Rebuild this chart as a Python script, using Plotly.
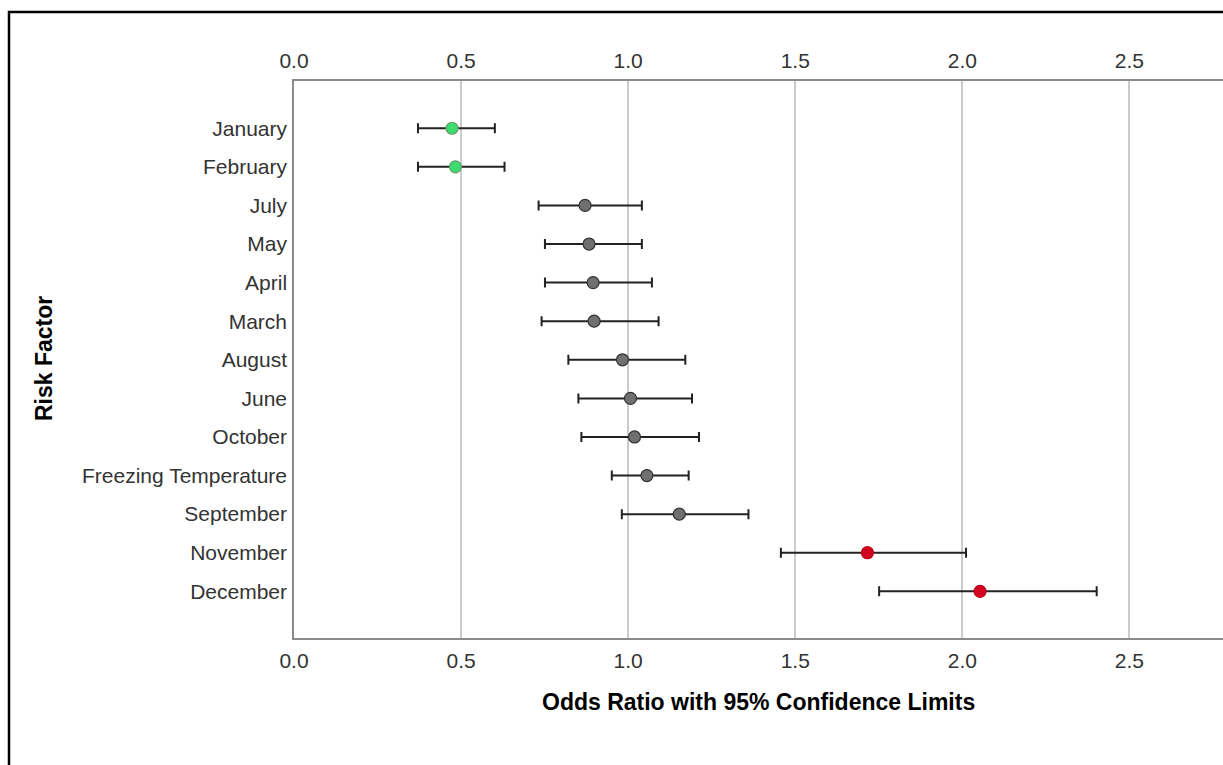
import plotly.graph_objects as go

# ---- data ----
categories = ["January", "February", "July", "May", "April", "March", "August",
              "June", "October", "Freezing Temperature", "September", "November", "December"]
odds_ratio = [0.473, 0.483, 0.871, 0.883, 0.895, 0.898, 0.983, 1.007, 1.019, 1.056, 1.153, 1.716, 2.053]
lower_ci = [0.371, 0.371, 0.732, 0.751, 0.751, 0.741, 0.821, 0.851, 0.860, 0.951, 0.981, 1.457, 1.751]
upper_ci = [0.601, 0.630, 1.041, 1.041, 1.071, 1.091, 1.171, 1.191, 1.212, 1.181, 1.360, 2.011, 2.402]
x_ticks = [0.0, 0.5, 1.0, 1.5, 2.0, 2.5]
x_tick_labels = ["0.0", "0.5", "1.0", "1.5", "2.0", "2.5"]

# ---- styling ----
W, H = 1223, 765
ML, MR, MT, MB = 294, 0, 81, 127
plot_w = W - ML - MR
plot_h = H - MT - MB
FONT = "Liberation Sans, Arial, sans-serif"

def px_to_paper_x(px):
    return (px - ML) / plot_w

def px_to_paper_y(py):
    return (H - MB - py) / plot_h

fill_colors, line_colors = [], []
for lo, hi in zip(lower_ci, upper_ci):
    if hi < 1:
        fill_colors.append("#3ddc6e"); line_colors.append("#6c9c6c")
    elif lo > 1:
        fill_colors.append("#d4001f"); line_colors.append("#c0001c")
    else:
        fill_colors.append("#707070"); line_colors.append("#333333")

err_plus = [u - o for u, o in zip(upper_ci, odds_ratio)]
err_minus = [o - l for o, l in zip(odds_ratio, lower_ci)]

fig = go.Figure()
fig.add_trace(go.Scatter(
    x=odds_ratio, y=categories, mode="markers",
    marker=dict(size=12, color=fill_colors, line=dict(color=line_colors, width=1.2)),
    error_x=dict(type="data", symmetric=False, array=err_plus, arrayminus=err_minus,
                 color="#222222", thickness=2, width=5),
    showlegend=False, hoverinfo="x+y",
))
# invisible trace to carry the top axis
fig.add_trace(go.Scatter(x=[x_ticks[0], x_ticks[-1]], y=[categories[0], categories[0]],
                         xaxis="x2", mode="markers", marker=dict(opacity=0),
                         showlegend=False, hoverinfo="skip"))

x_range = [0, 2.78]
axis_common = dict(
    range=x_range, tickvals=x_ticks, ticktext=x_tick_labels,
    showgrid=True, gridcolor="#cbcbcb", gridwidth=1.5,
    zeroline=False, ticks="", ticklabelstandoff=3,
    tickfont=dict(family=FONT, size=21, color="#333333"),
    showline=True, linecolor="#8a8a8a", linewidth=1.5,
)

fig.update_layout(
    width=W, height=H,
    margin=dict(l=ML, r=MR, t=MT, b=MB, pad=0),
    paper_bgcolor="white", plot_bgcolor="white",
    xaxis=dict(**axis_common, side="bottom"),
    xaxis2=dict(**axis_common, side="top", overlaying="x", matches="x"),
    yaxis=dict(
        type="category", categoryorder="array", categoryarray=categories,
        range=[len(categories) - 1 + 1.21, -1.225],
        showgrid=False, zeroline=False, ticks="", ticklabelstandoff=1,
        tickfont=dict(family=FONT, size=21, color="#333333"),
        showline=True, linecolor="#8a8a8a", linewidth=1.5,
    ),
    annotations=[
        dict(text="<b>Odds Ratio with 95% Confidence Limits</b>", xref="paper", yref="paper",
             x=0.5, y=px_to_paper_y(702), xanchor="center", yanchor="middle", showarrow=False,
             font=dict(family=FONT, size=23, color="#000000")),
        dict(text="<b>Risk Factor</b>", xref="paper", yref="paper",
             x=px_to_paper_x(44), y=px_to_paper_y(359), xanchor="center", yanchor="middle",
             textangle=-90, showarrow=False,
             font=dict(family=FONT, size=23, color="#000000")),
    ],
    shapes=[
        dict(type="rect", xref="paper", yref="paper",
             x0=px_to_paper_x(9), x1=px_to_paper_x(W + 50),
             y0=px_to_paper_y(H + 50), y1=px_to_paper_y(12),
             line=dict(color="black", width=2.5), fillcolor="rgba(0,0,0,0)", layer="above"),
    ],
)

fig.write_html("out.html")
